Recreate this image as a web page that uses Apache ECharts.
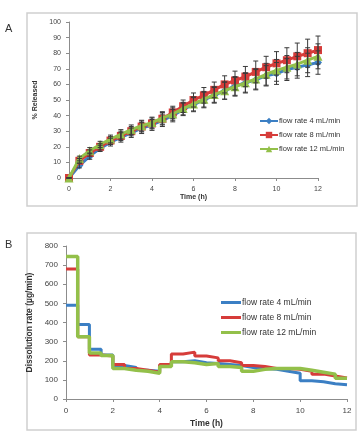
<!DOCTYPE html>
<html>
<head>
<meta charset="utf-8">
<script src="https://cdn.jsdelivr.net/npm/echarts@6/dist/echarts.min.js"></script>
<style>
  html, body { margin: 0; padding: 0; background: #fff; }
  #chart { width: 364px; height: 431px; }
</style>
</head>
<body>
<div id="chart"></div>
<script>
// --- panel A: cumulative release ---
const timesA = [0,0.5,1,1.5,2,2.5,3,3.5,4,4.5,5,5.5,6,6.5,7,7.5,8,8.5,9,9.5,10,10.5,11,11.5,12];
const rel4  = [0,8,14,19,23,26,29,32,34,37,40,44,47,50,53,56,59,61,63,65.5,67,69.5,71,72.5,74];
const rel8  = [0,11,16,20,24,27,30,33,35,38,42,46,50,53,56.5,60,62.5,65,68,71,73.5,75.5,78,80,82];
const rel12 = [0,12.5,17.5,21.5,25,28,31,33.5,35.5,38.5,41,44.5,47.5,50.5,53.5,56,58.5,61,63.5,66.5,69,71,73,75.5,78];
const err4  = [0,1.5,2,2,2.5,3,3,3.5,3.5,4,4,4,4.5,5,5,5.5,6,6,6.5,6.5,7,7,7,7.5,7.5];
const err8  = [0,1.5,2,2,2.5,3,3,3.5,3.5,4,4,4,4.5,5,5,5.5,6,6.5,7,7,7.5,8,8.5,9,9];
const err12 = [0,1.5,2,2,2.5,3,3,3.5,3.5,4,4,4,4.5,5,5,5.5,6,6.5,6.5,7,7,7.5,7.5,8,8];

// --- panel B: dissolution rate per 0.5 h interval ---
const edgesB = [0,0.5,1,1.5,2,2.5,3,3.5,4,4.5,5,5.5,6,6.5,7,7.5,8,8.5,9,9.5,10,10.5,11,11.5,12];
const rate4  = [490,390,260,230,175,165,150,145,175,195,200,190,185,180,175,165,160,155,145,135,95,90,80,75];
const rate8  = [680,325,230,225,180,160,150,140,180,235,245,225,215,200,190,175,170,160,160,155,145,130,120,110];
const rate12 = [745,325,240,228,160,150,145,135,170,195,190,180,185,170,165,145,155,160,160,160,150,140,130,108];

const names = ['flow rate 4 mL/min', 'flow rate 8 mL/min', 'flow rate 12 mL/min'];
const colors = ['#3b7fc4', '#d63c3a', '#93c04a'];
const FONT = 'Liberation Sans';

const pairs = (xs, ys) => xs.map((x, i) => [x, ys[i]]);
// step series: last interval value held until the final edge
const steps = (rates) => edgesB.map((x, i) => [x, rates[Math.min(i, rates.length - 1)]]);
const bars = (ys, es) => timesA.map((x, i) => [x, ys[i] - es[i], ys[i] + es[i]]);

const errorBar = (data) => ({
  type: 'custom',
  xAxisIndex: 0, yAxisIndex: 0,
  z: 5,
  silent: true,
  encode: { x: 0, y: [1, 2] },
  data: data,
  renderItem: (params, api) => {
    const lo = api.coord([api.value(0), api.value(1)]);
    const hi = api.coord([api.value(0), api.value(2)]);
    const w = 2.5;
    const st = { stroke: '#3a3a3a', lineWidth: 1 };
    return {
      type: 'group',
      children: [
        { type: 'line', shape: { x1: lo[0], y1: lo[1], x2: hi[0], y2: hi[1] }, style: st },
        { type: 'line', shape: { x1: lo[0] - w, y1: lo[1], x2: lo[0] + w, y2: lo[1] }, style: st },
        { type: 'line', shape: { x1: hi[0] - w, y1: hi[1], x2: hi[0] + w, y2: hi[1] }, style: st }
      ]
    };
  }
});

const axisCommon = (fs) => ({
  axisLine: { show: true, lineStyle: { color: '#8c8c8c', width: 1 } },
  axisTick: { show: true, length: 3, lineStyle: { color: '#8c8c8c' } },
  axisLabel: { color: '#444', fontSize: fs, fontFamily: FONT },
  splitLine: { show: false }
});

const symbolsA = ['diamond', 'rect', 'triangle'];
const sizesA = [8, 8, 9];
const relA = [rel4, rel8, rel12];
const errA = [err4, err8, err12];
const rateB = [rate4, rate8, rate12];

const series = [];
relA.forEach((ys, i) => {
  series.push({
    name: 'A|' + names[i],
    type: 'line',
    xAxisIndex: 0, yAxisIndex: 0,
    data: pairs(timesA, ys),
    symbol: symbolsA[i],
    symbolSize: sizesA[i],
    color: colors[i],
    lineStyle: { width: 3 },
    itemStyle: { color: colors[i] },
    z: 2 + i * 0.1
  });
});
errA.forEach((es, i) => series.push(errorBar(bars(relA[i], es))));
rateB.forEach((rs, i) => {
  series.push({
    name: 'B|' + names[i],
    type: 'line',
    xAxisIndex: 1, yAxisIndex: 1,
    step: 'end',
    data: steps(rs),
    symbol: 'none',
    color: colors[i],
    lineStyle: { width: i === 2 ? 3.5 : 3 },
    z: 2 + i * 0.1
  });
});

const chart = echarts.init(document.getElementById('chart'), null, { renderer: 'canvas' });
chart.setOption({
  animation: false,
  backgroundColor: '#fff',
  textStyle: { fontFamily: FONT },
  graphic: [
    { type: 'rect', shape: { x: 27, y: 13, width: 330, height: 193 }, style: { fill: 'none', stroke: '#cfcfcf', lineWidth: 1.5 }, z: -1 },
    { type: 'rect', shape: { x: 27, y: 233, width: 329, height: 197 }, style: { fill: 'none', stroke: '#cfcfcf', lineWidth: 1.5 }, z: -1 },
    { type: 'text', left: 5, top: 23, style: { text: 'A', fontSize: 11, fill: '#333', fontFamily: FONT } },
    { type: 'text', left: 5, top: 239, style: { text: 'B', fontSize: 11, fill: '#333', fontFamily: FONT } }
  ],
  grid: [
    { left: 69, right: 46, top: 22, bottom: 253 },
    { left: 66, right: 17, top: 246, bottom: 32 }
  ],
  xAxis: [
    Object.assign(axisCommon(7), {
      gridIndex: 0, type: 'value', min: 0, max: 12, interval: 2,
      name: 'Time (h)', nameLocation: 'middle', nameGap: 15,
      nameTextStyle: { fontSize: 7, fontWeight: 'bold', color: '#333', fontFamily: FONT }
    }),
    Object.assign(axisCommon(8), {
      gridIndex: 1, type: 'value', min: 0, max: 12, interval: 2,
      name: 'Time (h)', nameLocation: 'middle', nameGap: 20,
      nameTextStyle: { fontSize: 8.5, fontWeight: 'bold', color: '#333', fontFamily: FONT }
    })
  ],
  yAxis: [
    Object.assign(axisCommon(7), {
      gridIndex: 0, type: 'value', min: 0, max: 100, interval: 10,
      name: '% Released', nameLocation: 'middle', nameGap: 23,
      nameTextStyle: { fontSize: 7, fontWeight: 'bold', color: '#333', fontFamily: FONT }
    }),
    Object.assign(axisCommon(8), {
      gridIndex: 1, type: 'value', min: 0, max: 800, interval: 100,
      name: 'Dissolution rate (µg/min)', nameLocation: 'middle', nameGap: 27,
      nameTextStyle: { fontSize: 8.5, fontWeight: 'bold', color: '#333', fontFamily: FONT }
    })
  ],
  legend: [
    {
      left: 254, top: 112, orient: 'vertical', itemGap: 6,
      itemWidth: 18, itemHeight: 8,
      data: names.map(n => 'A|' + n),
      formatter: (n) => n.slice(2),
      textStyle: { fontSize: 7.5, color: '#333', fontFamily: FONT, padding: [0, 0, 0, -4] }
    },
    {
      left: 216, top: 293, orient: 'vertical', itemGap: 6,
      itemWidth: 20, itemHeight: 3,
      data: names.map(n => ({ name: 'B|' + n, icon: 'rect' })),
      formatter: (n) => n.slice(2),
      textStyle: { fontSize: 8.5, color: '#333', fontFamily: FONT, padding: [0, 0, 0, -4] }
    }
  ],
  series: series
});
</script>
</body>
</html>
